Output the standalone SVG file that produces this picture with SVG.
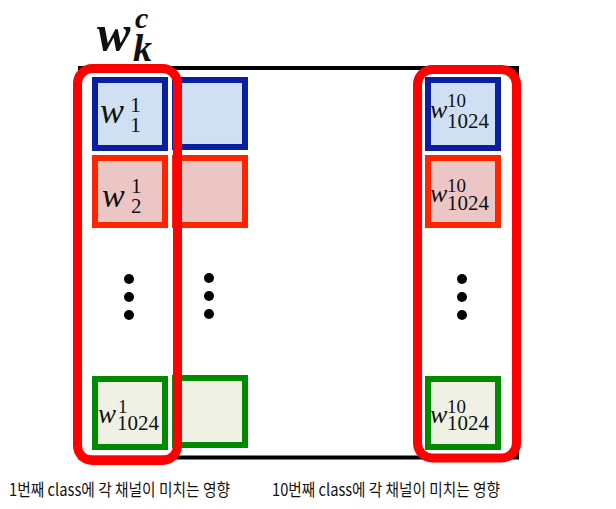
<svg xmlns="http://www.w3.org/2000/svg" width="616" height="509" viewBox="0 0 616 509">
<style>
.b{fill:#cfe0f3;stroke:#0a1fa0;stroke-width:6}
.r{fill:#ecc6c5;stroke:#ff2400;stroke-width:6}
.g{fill:#eef1e3;stroke:#008a00;stroke-width:6}
.grp{fill:none;stroke:#ff0000;stroke-width:9}
.m{font-family:"Liberation Serif","DejaVu Serif",serif;fill:#111}
.i{font-style:italic}
.k{font-family:"Noto Sans CJK KR","Noto Sans",sans-serif;font-size:17px;fill:#111}
.d{fill:#000}
</style>
<rect id="frame" x="80" y="68" width="437" height="389.5" fill="none" stroke="#000" stroke-width="4"/>
<g id="title">
<text class="m" font-weight="bold" font-style="italic"><tspan x="97" y="50" font-size="50">w</tspan><tspan x="135" y="28" font-size="30">c</tspan><tspan x="133" y="61" font-size="38">k</tspan></text>
</g>
<g id="w1_1"><rect class="b" x="95" y="80" width="70" height="68"/>
<text class="m"><tspan class="i" x="100" y="123" font-size="36">w</tspan><tspan x="130" y="112" font-size="22">1</tspan><tspan x="130" y="132" font-size="22">1</tspan></text></g>
<g id="b2"><rect class="b" x="175" y="80" width="70" height="67"/></g>
<g id="wr_b"><rect class="b" x="428" y="80" width="70" height="68"/>
<text class="m"><tspan class="i" x="430" y="118" font-size="26">w</tspan><tspan x="447" y="107" font-size="19">10</tspan><tspan x="447" y="128" font-size="21">1024</tspan></text></g>

<g id="w1_2"><rect class="r" x="95" y="158" width="70" height="67"/>
<text class="m"><tspan class="i" x="102" y="207" font-size="34">w</tspan><tspan x="131" y="193" font-size="21">1</tspan><tspan x="131" y="213" font-size="21">2</tspan></text></g>
<g id="r2"><rect class="r" x="175" y="158" width="70" height="67"/></g>
<g id="wr_r"><rect class="r" x="428" y="158" width="70" height="67"/>
<text class="m"><tspan class="i" x="430" y="202" font-size="26">w</tspan><tspan x="447" y="192" font-size="19">10</tspan><tspan x="447" y="210" font-size="21">1024</tspan></text></g>

<g id="dots">
<circle class="d" cx="129" cy="279" r="5"/><circle class="d" cx="129" cy="297" r="5"/><circle class="d" cx="129" cy="315" r="5"/>
<circle class="d" cx="209" cy="278" r="5"/><circle class="d" cx="209" cy="296" r="5"/><circle class="d" cx="209" cy="314" r="5"/>
<circle class="d" cx="462" cy="279" r="5"/><circle class="d" cx="462" cy="297" r="5"/><circle class="d" cx="462" cy="315" r="5"/>
</g>

<g id="w1_1024"><rect class="g" x="95" y="379" width="70" height="68"/>
<text class="m"><tspan class="i" x="98" y="423" font-size="27">w</tspan><tspan x="118" y="413" font-size="19">1</tspan><tspan x="117" y="430" font-size="21">1024</tspan></text></g>
<g id="g2"><rect class="g" x="175" y="378" width="70" height="67"/></g>
<g id="wr_g"><rect class="g" x="428" y="379" width="70" height="68"/>
<text class="m"><tspan class="i" x="430" y="423" font-size="26">w</tspan><tspan x="447" y="413" font-size="19">10</tspan><tspan x="447" y="430" font-size="21">1024</tspan></text></g>

<g id="groups">
<rect class="grp" x="77.5" y="68.5" width="100" height="392" rx="15"/>
<rect class="grp" x="417.5" y="69.5" width="99" height="388.5" rx="15"/>
</g>
<g id="captions">
<text class="k" x="9" y="496" textLength="221" lengthAdjust="spacingAndGlyphs">1번째 class에 각 채널이 미치는 영향</text>
<text class="k" x="272" y="496" textLength="228" lengthAdjust="spacingAndGlyphs">10번째 class에 각 채널이 미치는 영향</text>
</g>
</svg>
